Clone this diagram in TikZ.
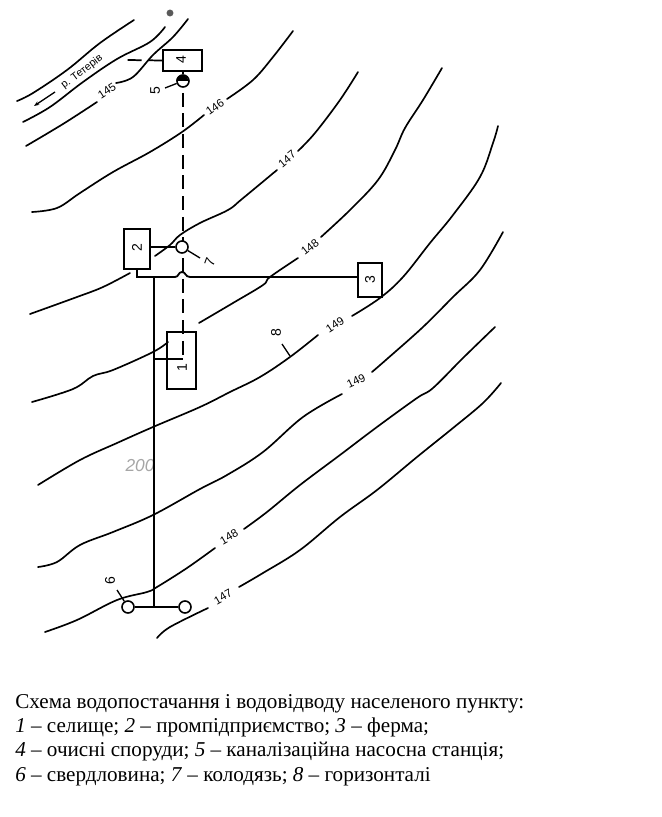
\documentclass[tikz,border=0pt]{standalone}
\usepackage{fontspec}
\setmainfont{Liberation Serif}
\newfontfamily\handfont{Liberation Sans}
\usetikzlibrary{arrows.meta,backgrounds}
\tikzset{
  x=0.75pt,y=-0.75pt,
  contour/.style={line width=1.25pt,line cap=round,line join=round},
  pipe/.style={line width=1.35pt,line join=miter},
  thin pipe/.style={line width=1.1pt},
  sewer/.style={line width=1.3pt,dash pattern=on 10.5pt off 5pt},
  facility/.style={draw,line width=1.2pt,inner sep=0pt},
  wellnode/.style={draw,circle,fill=white,line width=1.2pt,inner sep=0pt,minimum size=9pt},
  leader/.style={line width=1pt},
  numeral/.style={font=\handfont\fontsize{10.5pt}{12pt}\selectfont,inner sep=0pt},
  elev/.style={font=\handfont\fontsize{8.5pt}{10pt}\selectfont,inner sep=0pt},
  caption/.style={anchor=base west,inner sep=0pt,font=\fontsize{15.85pt}{18pt}\selectfont},
  every plot/.style={smooth,tension=0.6},
}
\begin{document}
\begin{tikzpicture}
\useasboundingbox (0,0) rectangle (661,817);
% contours
\draw[contour] plot[smooth,tension=0.6] coordinates {(17,101) (33,93) (67,70) (100,43) (134,20)};
\draw[contour] plot[smooth,tension=0.6] coordinates {(23,122) (50,107) (83,82) (117,59) (150,42) (165,27)};
\draw[contour] plot[smooth,tension=0.6] coordinates {(26,146) (63,124) (97,102)};
\draw[contour] plot[smooth,tension=0.6] coordinates {(116,83) (133,77) (153,55) (173,37) (188,19)};
\draw[contour] plot[smooth,tension=0.6] coordinates {(32,212) (57,208) (80,193) (113,172) (150,152) (182,132) (204,115)};
\draw[contour] plot[smooth,tension=0.6] coordinates {(227,99) (253,80) (273,57) (293,31)};
\draw[contour] plot[smooth,tension=0.6] coordinates {(30,314) (77,297) (103,287) (130,273)};
\draw[contour] plot[smooth,tension=0.6] coordinates {(155,256) (170,245) (180,235) (200,223) (228,210) (242,199) (277,170)};
\draw[contour] plot[smooth,tension=0.6] coordinates {(298,151) (315,133) (340,100) (358,72)};
\draw[contour] plot[smooth,tension=0.6] coordinates {(32,402) (73,389) (93,376) (113,370) (153,352) (168,342)};
\draw[contour] plot[smooth,tension=0.6] coordinates {(199,323) (233,303) (263,285) (270,277) (298,258)};
\draw[contour] plot[smooth,tension=0.6] coordinates {(321,237) (350,210) (378,180) (395,150) (405,128) (423,100) (442,68)};
\draw[contour] plot[smooth,tension=0.6] coordinates {(38,485) (80,460) (117,443) (153,427) (200,407) (230,392) (260,377) (290,357) (318,335)};
\draw[contour] plot[smooth,tension=0.6] coordinates {(352,316) (380,298) (403,277) (430,243) (453,215) (480,177) (493,143) (498,126)};
\draw[contour] plot[smooth,tension=0.6] coordinates {(38,567) (57,562) (80,545) (113,532) (153,515) (200,489) (227,475) (263,452) (303,417) (342,394)};
\draw[contour] plot[smooth,tension=0.6] coordinates {(372,372) (387,359) (423,327) (453,297) (480,270) (503,232)};
\draw[contour] plot[smooth,tension=0.6] coordinates {(45,632) (77,620) (117,600) (147,592) (157,587) (187,568) (215,548)};
\draw[contour] plot[smooth,tension=0.6] coordinates {(244,529) (267,512) (300,485) (340,455) (377,427) (417,398) (433,388) (463,358) (495,327)};
\draw[contour] plot[smooth,tension=0.6] coordinates {(157,638) (170,627) (208,608)};
\draw[contour] plot[smooth,tension=0.6] coordinates {(239,587) (263,573) (300,550) (340,517) (377,490) (417,457) (453,428) (483,403) (501,383)};
% elevation labels
\node[elev,rotate=33] (e145) at (107,91) {145};
\node[elev,rotate=35] (e146) at (215,107) {146};
\node[elev,rotate=40] (e147) at (287,159) {147};
\node[elev,rotate=38] (e148a) at (310,247) {148};
\node[elev,rotate=33] (e149a) at (335,325) {149};
\node[elev,rotate=25] (e149b) at (356,381) {149};
\node[elev,rotate=30] (e148b) at (229,537) {148};
\node[elev,rotate=30] (e147b) at (223,597) {147};
% river
\node[font=\handfont\fontsize{8pt}{10pt}\selectfont,inner sep=0pt,rotate=37] (river) at (82,72) {р. Тетерів};
\coordinate (flowA) at (55,92);
\coordinate (flowB) at (34,106);
\draw[line width=1pt,-{Stealth[length=4pt,width=3pt]}] (flowA) -- (flowB);
% faint pencil figure and specks on the sheet
\node[font=\handfont\itshape\fontsize{13pt}{14pt}\selectfont,text=black!35,inner sep=0pt] (pencil) at (140,466) {200};
\fill[black!65] (170,13) circle[radius=2.6pt];
% facilities
\node[facility,minimum width=29.25pt,minimum height=15.75pt] (b4) at (182.5,60.5) {};
\node[numeral,rotate=90] (n4) at (181,60) {4};
\node[facility,minimum width=19.5pt,minimum height=30pt] (b2) at (137,249) {};
\node[numeral,rotate=90] (n2) at (137,248) {2};
\node[facility,minimum width=18pt,minimum height=25.5pt] (b3) at (370,280) {};
\node[numeral,rotate=90] (n3) at (370,280) {3};
\node[facility,minimum width=21.75pt,minimum height=42.75pt] (b1) at (181.5,360.5) {};
\node[numeral,rotate=90] (n1) at (182,368) {1};
% pump, wells
\node[wellnode] (pump) at (183,81) {};
\fill (pump.west) arc[start angle=180,end angle=0,radius=4.5pt] -- cycle;
\node[wellnode] (well7) at (182,247) {};
\node[wellnode] (wellL) at (128,607) {};
\node[wellnode] (wellR) at (185,607) {};
% sewer
\coordinate (sewerEnd) at (183,359);
\coordinate (outfall) at (127,60);
\begin{pgfonlayer}{background}
\draw[sewer] (pump.south) ++(0,5) -- (sewerEnd);
\draw[sewer] (b4.west) -- (outfall);
\end{pgfonlayer}
\draw[line width=1.2pt] (b4.south -| pump) -- (pump.north);
% water pipes
\coordinate (corner) at (137,277);
\coordinate (tee) at (154,277);
\coordinate (humpA) at (175,277);
\coordinate (humpB) at (190,277);
\coordinate (bottom) at (154,607);
\coordinate (branch) at (154,359);
\draw[pipe] (b2.south) -- (corner) -- (tee) -- (humpA) .. controls (179,277) and (178,272) .. (182,272) .. controls (186,272) and (185,277) .. (humpB) -- (b3.west |- humpB);
\draw[pipe] (tee) -- (bottom);
\draw[pipe] (wellL) -- (wellR);
\draw[thin pipe] (branch) -- (sewerEnd);
\draw[thin pipe] (well7) -- (b2.east |- well7);
% leaders
\node[numeral,rotate=90] (n5) at (155,91) {5};
\coordinate (l5) at (165,88);
\draw[leader] (l5) -- (pump);
\node[numeral,rotate=70] (n7) at (210,262) {7};
\coordinate (l7) at (200,258);
\draw[leader] (l7) -- (well7);
\node[numeral,rotate=90] (n8) at (276,333) {8};
\coordinate (l8a) at (282,344);
\coordinate (l8b) at (290,356);
\draw[leader] (l8a) -- (l8b);
\node[numeral,rotate=90] (n6) at (110,581) {6};
\coordinate (l6) at (117,590);
\draw[leader] (l6) -- (wellL);
% caption
\node[caption] (c1) at (15,708) {Схема водопостачання і водовідводу населеного пункту:};
\node[caption] (c2) at (15,732) {\textit{1} – селище; \textit{2} – промпідприємство; \textit{3} – ферма;};
\node[caption] (c3) at (15,756) {\textit{4} – очисні споруди; \textit{5} – каналізаційна насосна станція;};
\node[caption] (c4) at (15,781) {\textit{6} – свердловина; \textit{7} – колодязь; \textit{8} – горизонталі};
\end{tikzpicture}
\end{document}
